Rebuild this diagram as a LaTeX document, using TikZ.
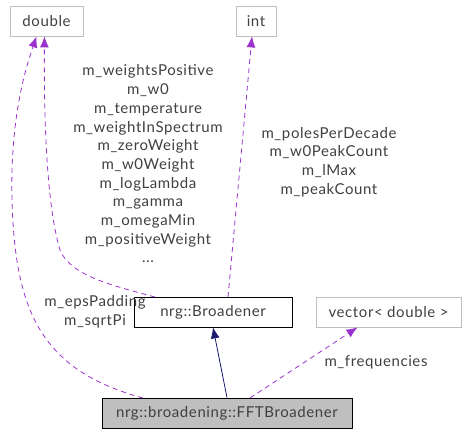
\documentclass[tikz,border=0pt]{standalone}
\usepackage{fontspec}
\setmainfont{Lato}[LetterSpace=4]
\usetikzlibrary{arrows.meta}
\definecolor{edgepurple}{HTML}{9A32CD}
\definecolor{edgenavy}{HTML}{191970}
\definecolor{txtgray}{HTML}{404040}
\definecolor{boxgray}{HTML}{BFBFBF}

\begin{document}
\begin{tikzpicture}[x=1pt, y=-1pt,
	every node/.style={font=\fontsize{15}{18.7}\selectfont, text=txtgray},
	cls/.style={draw=boxgray, line width=0.8pt, minimum height=30pt, inner xsep=6pt},
	mainbox/.style={draw=black, line width=0.8pt, minimum height=30pt, inner xsep=6pt},
	member/.style={draw=edgepurple, dashed, dash pattern=on 5pt off 4pt, line width=0.8pt, -{Latex[length=11pt, width=9pt]}},
	inherit/.style={draw=edgenavy, line width=0.8pt, -{Latex[length=11pt, width=9pt]}},
	lbl/.style={align=center}]
	\useasboundingbox (0,0) rectangle (467,435);
	% classes
	\node[cls, minimum width=73pt] (dbl) at (46.5,21) {double};
	\node[cls, minimum width=40pt] (int) at (256,21) {int};
	\node[mainbox, minimum width=158pt] (brd) at (213,312) {nrg::Broadener};
	\node[cls, minimum width=145pt] (vec) at (388.5,312) {vector< double >};
	\node[mainbox, fill=boxgray, minimum width=250pt] (fft) at (227,413) {nrg::broadening::FFTBroadener};
	% inheritance
	\draw[inherit] (fft.north) -- (brd.south);
	% members
	\coordinate (fftA) at (143,398);
	\coordinate (fftB) at (250,398);
	\coordinate (brdA) at (155,297);
	\coordinate (brdB) at (228,297);
	\draw[member] (fftA) .. controls (40,370) and (15,310) .. (12,200) .. controls (10,120) and (25,70) .. ([xshift=-10pt]dbl.south);
	\draw[member] (brdA) .. controls (110,285) and (70,275) .. (60,250) .. controls (45,200) and (44,100) .. ([xshift=-2pt]dbl.south);
	\draw[member] (brdB) -- ([xshift=-4pt]int.south);
	\draw[member] (fftB) -- ([xshift=-31pt]vec.south);
	% labels
	\node[lbl] (lblA) at (148,164) {m\_weightsPositive\\m\_w0\\m\_temperature\\m\_weightInSpectrum\\m\_zeroWeight\\m\_w0Weight\\m\_logLambda\\m\_gamma\\m\_omegaMin\\m\_positiveWeight\\...};
	\node[lbl] (lblB) at (329,162) {m\_polesPerDecade\\m\_w0PeakCount\\m\_lMax\\m\_peakCount};
	\node[lbl] (lblC) at (95,312) {m\_epsPadding\\m\_sqrtPi};
	\node[lbl] (lblD) at (376,362) {m\_frequencies};
\end{tikzpicture}
\end{document}
